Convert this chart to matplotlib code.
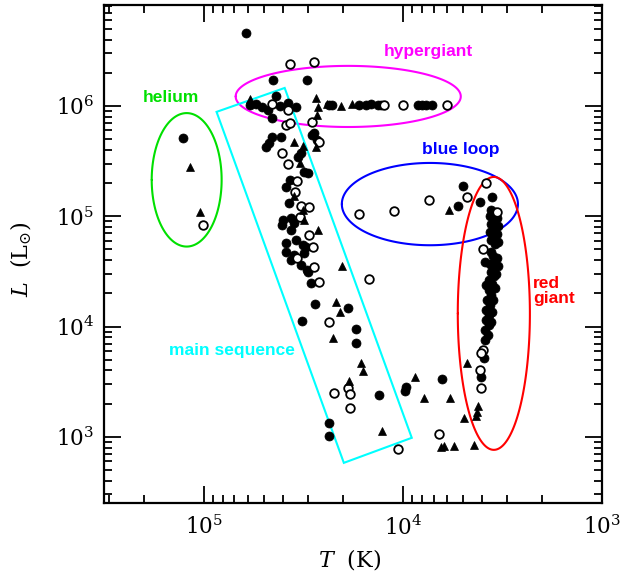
import numpy as np
import matplotlib
matplotlib.use("Agg")
import matplotlib.pyplot as plt
from matplotlib.patches import Polygon

# ---------------- data (log10 T [K], log10 L [Lsun]) ----------------
logT_filled = [4.789, 4.653, 4.482, 5.101, 4.769, 4.709, 4.638, 4.618, 4.578, 4.538,
               4.658, 4.658, 4.613, 4.447, 4.372, 4.357, 4.221, 4.186, 4.161, 4.126,
               4.111, 3.925, 3.905, 3.884, 3.854, 4.688, 4.673, 4.513, 4.528, 4.497,
               4.477, 4.568, 4.588, 4.457, 4.432, 4.573, 4.603, 4.608, 4.563, 4.548,
               4.563, 4.588, 4.538, 4.503, 4.487, 4.482, 4.462, 4.588, 4.548, 4.497,
               4.513, 4.477, 4.563, 4.442, 4.276, 4.508, 4.236, 4.236, 4.121, 3.985,
               3.990, 3.804, 4.372, 4.372, 3.724, 3.698, 3.613, 3.553,
               3.558, 3.538, 3.563, 3.543, 3.558, 3.538, 3.563, 3.548, 3.558, 3.538,
               3.558, 3.548, 3.538, 3.563, 3.548, 3.558, 3.543, 3.568, 3.553, 3.568,
               3.558, 3.578, 3.563, 3.583, 3.568, 3.583, 3.568, 3.588, 3.573, 3.588,
               3.593, 3.608,
               3.528, 3.523, 3.528, 3.523, 3.528, 3.523, 3.533, 3.538, 3.548, 3.553,
               3.558, 3.588, 3.583, 4.739, 4.678]
logL_filled = [6.662, 6.236, 6.236, 5.710, 6.009, 5.991, 6.091, 6.000, 6.027, 5.991,
               5.891, 5.719, 5.719, 5.755, 6.009, 6.009, 6.009, 6.009, 6.018, 6.009,
               6.009, 6.009, 6.009, 6.009, 6.009, 5.628, 5.665, 5.574, 5.538, 5.402,
               5.393, 5.329, 5.266, 5.737, 5.692, 5.121, 4.966, 4.921, 4.985, 4.939,
               4.876, 4.758, 4.785, 4.740, 4.722, 4.513, 4.395, 4.676, 4.649, 4.667,
               4.559, 4.495, 4.604, 4.205, 4.169, 4.051, 3.978, 3.851, 3.380, 3.452,
               3.416, 3.525, 3.126, 3.008, 5.093, 5.275, 5.130, 5.175,
               5.057, 5.039, 5.003, 4.966, 4.930, 4.894, 4.858, 4.821, 4.785, 4.749,
               4.676, 4.640, 4.604, 4.568, 4.531, 4.495, 4.459, 4.423, 4.386, 4.332,
               4.287, 4.241, 4.196, 4.151, 4.105, 4.060, 4.015, 3.969, 3.924, 3.879,
               3.715, 3.543,
               4.985, 4.912, 4.840, 4.767, 4.622, 4.549, 4.477, 4.350, 4.241, 4.132,
               4.042, 4.586, 4.377, 6.018, 5.964]

logT_open = [4.568, 4.447, 4.658, 4.578, 4.588, 4.568, 4.457, 4.608, 4.578, 4.533,
             4.543, 4.513, 4.472, 4.518, 4.472, 4.452, 4.447, 4.422, 4.422, 4.095,
             4.000, 3.779, 5.005, 4.221, 4.045, 3.869, 3.678, 3.583, 4.171, 4.372,
             4.347, 4.276, 4.266, 4.266, 4.025, 3.819, 3.598, 3.598, 3.608, 3.613,
             3.608, 3.528, 4.533]
logL_open = [6.381, 6.399, 6.018, 5.964, 5.828, 5.846, 5.855, 5.574, 5.474, 5.320,
             5.220, 5.093, 5.084, 4.994, 4.830, 4.722, 4.540, 4.404, 5.674, 6.009,
             6.009, 6.009, 4.921, 5.021, 5.048, 5.148, 5.175, 5.302, 4.432, 4.042,
             3.398, 3.443, 3.389, 3.262, 2.890, 3.026, 4.704, 3.788, 3.761, 3.607,
             3.443, 5.039, 4.622]

logT_tri = [5.070, 5.020, 4.769, 4.437, 4.427, 4.432, 4.548, 4.503, 4.437, 4.518,
            4.548, 4.503, 4.497, 4.427, 4.312, 4.256, 4.382, 4.307, 4.337, 4.317,
            4.352, 4.211, 4.201, 4.271, 4.106, 3.940, 3.894, 3.764, 3.794, 3.809,
            3.744, 3.643, 3.678, 3.623, 3.628, 3.633, 3.693, 3.769]
logL_tri = [5.447, 5.039, 6.063, 6.073, 5.991, 5.918, 5.674, 5.637, 5.628, 5.483,
            5.184, 5.057, 4.966, 4.876, 6.000, 6.018, 6.018, 4.549, 4.223, 4.132,
            3.897, 3.670, 3.598, 3.507, 3.054, 3.543, 3.353, 3.353, 2.918, 2.909,
            2.918, 2.927, 3.670, 3.280, 3.226, 3.189, 3.171, 5.057]

# region outlines: (label, colour, centre logT, centre logL, half-width, half-height)
ellipses = [
    ("helium", "#00e000", 5.085, 5.33, 0.1755, 0.605),
    ("hypergiant", "#ff00ff", 4.274, 6.086, 0.565, 0.277),
    ("blue loop", "#0000ff", 3.864, 5.11, 0.442, 0.373),
    ("red giant", "#ff0000", 3.543, 4.119, 0.181, 1.237),
]
ms_box_logT = [4.935, 4.593, 3.955, 4.296]
ms_box_logL = [5.946, 6.163, 2.991, 2.764]

x_ticks = [1e5, 1e4, 1e3]
x_ticklabels = [r"$10^{5}$", r"$10^{4}$", r"$10^{3}$"]
y_ticks = [1e3, 1e4, 1e5, 1e6]
y_ticklabels = [r"$10^{3}$", r"$10^{4}$", r"$10^{5}$", r"$10^{6}$"]

# ---------------- figure ----------------
plt.rcParams["mathtext.fontset"] = "dejavuserif"
plt.rcParams["path.simplify"] = False
fig = plt.figure(figsize=(6.23, 5.78), dpi=100)
ax = fig.add_axes([104 / 623, 1 - 503 / 578, 498 / 623, 498 / 578])
ax.set_xscale("log")
ax.set_yscale("log")

t = np.linspace(0, 2 * np.pi, 720)
for name, col, cx, cy, a, b in ellipses:
    ax.plot(10 ** (cx + a * np.cos(t)), 10 ** (cy + b * np.sin(t)),
            color=col, lw=1.5, zorder=2, solid_joinstyle="round",
            solid_capstyle="round", snap=False)

box = Polygon(np.column_stack([10 ** np.array(ms_box_logT), 10 ** np.array(ms_box_logL)]),
              closed=True, fill=False, edgecolor="#00ffff", lw=1.5, zorder=2)
ax.add_patch(box)

ax.plot(10 ** np.array(logT_filled), 10 ** np.array(logL_filled), "o", ms=6.5,
        mfc="black", mec="black", mew=0.5, ls="none", zorder=3)
ax.plot(10 ** np.array(logT_open), 10 ** np.array(logL_open), "o", ms=6.2,
        mfc="white", mec="black", mew=1.3, ls="none", zorder=4)
ax.plot(10 ** np.array(logT_tri), 10 ** np.array(logL_tri), "^", ms=5.5,
        mfc="black", mec="black", mew=0.5, ls="none", zorder=4)

ax.set_xlim(10 ** 5.5, 1e3)
ax.set_ylim(10 ** 2.4, 10 ** 6.915)

ax.set_xticks(x_ticks)
ax.set_xticklabels(x_ticklabels)
ax.set_yticks(y_ticks)
ax.set_yticklabels(y_ticklabels)
ax.tick_params(which="both", direction="in", top=True, right=True, width=1.3)
ax.tick_params(which="major", length=12, labelsize=15.5, pad=9)
ax.tick_params(which="minor", length=6)
ax.tick_params(axis="y", which="major", pad=7)
for lab in ax.get_xticklabels() + ax.get_yticklabels():
    lab.set_family("DejaVu Serif")
for sp in ax.spines.values():
    sp.set_linewidth(1.6)

txt = dict(fontsize=12.5, fontweight="bold", family="Liberation Sans",
           transform=ax.transAxes, va="center")
ax.text(0.1345, 0.815, "helium", color="#00e000", ha="center", **txt)
ax.text(0.651, 0.906, "hypergiant", color="#ff00ff", ha="center", **txt)
ax.text(0.717, 0.709, "blue loop", color="#0000ff", ha="center", **txt)
ax.text(0.861, 0.426, "red\ngiant", color="#ff0000", ha="left",
        linespacing=0.95, **txt)
ax.text(0.257, 0.307, "main sequence", color="#00ffff", ha="center", **txt)

fig.text(350 / 623, 1 - 560 / 578, r"$T\ \ (\mathrm{K})$", fontsize=16,
         ha="center", va="center")
fig.text(21 / 623, 1 - 259 / 578, r"$L\ \ (\mathrm{L}_{\odot})$", fontsize=16,
         ha="center", va="center", rotation=90)

fig.savefig("out.png", dpi=100)
